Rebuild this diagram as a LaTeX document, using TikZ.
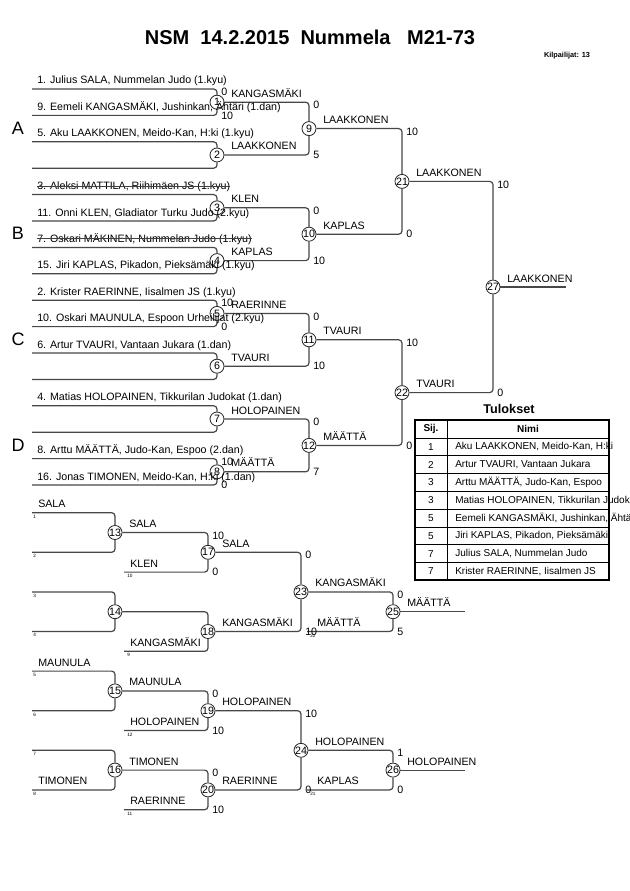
\documentclass[tikz,border=0pt]{standalone}
\usepackage{fontspec}
\setmainfont{Liberation Sans}
\usetikzlibrary{calc}
\newcommand\myfs[1]{\fontsize{#1}{#1}\selectfont}
\tikzset{
 br/.style={draw=black!72, line width=0.9pt, rounded corners=2.5pt},
 mc/.style={circle, draw=black!85, line width=0.6pt, minimum size=10.5pt, inner sep=0pt, font=\myfs{8}},
 nm/.style={anchor=base west, inner sep=0pt, font=\myfs{8}},
 sc/.style={anchor=west, inner sep=0pt, font=\myfs{8}},
 tn/.style={anchor=north west, inner sep=0pt, font=\myfs{3.5}},
 strike/.style={draw=black!75, line width=0.6pt},
 tline/.style={draw=black, line width=0.5pt},
}
\begin{document}
\begin{tikzpicture}[x=0.75pt,y=-0.75pt]
\useasboundingbox (0,0) rectangle (630,891);
\clip (0,0) rectangle (630,891);
\fill[white] (0,0) rectangle (630,891);

% title
\node[font=\bfseries\myfs{15}] (title) at (310,37) {NSM\ \ 14.2.2015\ \ Nummela\ \ \ M21-73};
\node[font=\bfseries\myfs{5.5}] (kilp) at (567,56) {Kilpailijat: 13};

% group letters
\node[font=\myfs{13.5}] (gA) at (18,128) {A};
\node[font=\myfs{13.5}] (gB) at (18,233) {B};
\node[font=\myfs{13.5}] (gC) at (18,339) {C};
\node[font=\myfs{13.5}] (gD) at (18,445) {D};

% ---------- main bracket ----------
\foreach \i in {0,...,15} \coordinate (s\i) at (32,{89+26.4*\i});
\foreach \j in {1,...,8} \node[mc] (m\j) at (217,{49.4+52.8*\j}) {\j};
\node[mc] (m9) at (309,128.6) {9};
\node[mc] (m10) at (309,234.2) {10};
\node[mc] (m11) at (309,339.8) {11};
\node[mc] (m12) at (309,445.4) {12};
\node[mc] (m21) at (402,181.4) {21};
\node[mc] (m22) at (402,392.6) {22};
\node[mc] (m27) at (493,287) {27};
\coordinate (e27) at (566,287);

\foreach \a/\b/\c in {0/1/1,2/3/2,4/5/3,6/7/4,8/9/5,10/11/6,12/13/7,14/15/8}{
  \draw[br] (s\a) -| (m\c);
  \draw[br] (s\b) -| (m\c);
}
\foreach \a/\b/\c in {m1/m2/m9,m3/m4/m10,m5/m6/m11,m7/m8/m12,m9/m10/m21,m11/m12/m22,m21/m22/m27}{
  \draw[br] (\a) -| (\c);
  \draw[br] (\b) -| (\c);
}
\draw[br] (m27) -- (e27);

% competitor names
\node[nm] (n0) at ($(s0)+(5,-5)$) {1. Julius SALA, Nummelan Judo (1.kyu)};
\node[nm] (n1) at ($(s1)+(5,-5)$) {9. Eemeli KANGASMÄKI, Jushinkan, Ähtäri (1.dan)};
\node[nm] (n2) at ($(s2)+(5,-5)$) {5. Aku LAAKKONEN, Meido-Kan, H:ki (1.kyu)};
\node[nm] (n4) at ($(s4)+(5,-5)$) {3. Aleksi MATTILA, Riihimäen JS (1.kyu)};
\node[nm] (n5) at ($(s5)+(5,-5)$) {11. Onni KLEN, Gladiator Turku Judo (2.kyu)};
\node[nm] (n6) at ($(s6)+(5,-5)$) {7. Oskari MÄKINEN, Nummelan Judo (1.kyu)};
\node[nm] (n7) at ($(s7)+(5,-5)$) {15. Jiri KAPLAS, Pikadon, Pieksämäki (1.kyu)};
\node[nm] (n8) at ($(s8)+(5,-5)$) {2. Krister RAERINNE, Iisalmen JS (1.kyu)};
\node[nm] (n9) at ($(s9)+(5,-5)$) {10. Oskari MAUNULA, Espoon Urheilijat (2.kyu)};
\node[nm] (n10) at ($(s10)+(5,-5)$) {6. Artur TVAURI, Vantaan Jukara (1.dan)};
\node[nm] (n12) at ($(s12)+(5,-5)$) {4. Matias HOLOPAINEN, Tikkurilan Judokat (1.dan)};
\node[nm] (n14) at ($(s14)+(5,-5)$) {8. Arttu MÄÄTTÄ, Judo-Kan, Espoo (2.dan)};
\node[nm] (n15) at ($(s15)+(5,-5)$) {16. Jonas TIMONEN, Meido-Kan, H:ki (1.dan)};
\draw[strike] ([yshift=0.6pt]n4.west) -- ([yshift=0.6pt]n4.east);
\draw[strike] ([yshift=0.6pt]n6.west) -- ([yshift=0.6pt]n6.east);

% winner labels
\foreach \m/\t in {m1/KANGASMÄKI,m2/LAAKKONEN,m3/KLEN,m4/KAPLAS,m5/RAERINNE,m6/TVAURI,m7/HOLOPAINEN,m8/MÄÄTTÄ,
  m9/LAAKKONEN,m10/KAPLAS,m11/TVAURI,m12/MÄÄTTÄ,m21/LAAKKONEN,m22/TVAURI,m27/LAAKKONEN}
  \node[nm] (w\m) at ($(\m)+(14,-5)$) {\t};

% scores (top: corner+(4,3), bottom: corner+(4,0))
\foreach \c/\s/\t in {m1/s0/0,m5/s8/10,m8/s14/10,m9/m1/0,m10/m3/0,m11/m5/0,m12/m7/0,m21/m9/10,m22/m11/10,m27/m21/10}
  \node[sc] (ts\c) at ($(\c |- \s)+(4,3)$) {\t};
\foreach \c/\s/\t in {m1/s1/10,m5/s9/0,m8/s15/0,m9/m2/5,m10/m4/10,m11/m6/10,m12/m8/7,m21/m10/0,m22/m12/0,m27/m22/0}
  \node[sc] (bs\c) at ($(\c |- \s)+(4,0)$) {\t};

% ---------- results table ----------
\node[font=\bfseries\myfs{9.5}] (tul) at (509,409) {Tulokset};
\node[font=\bfseries\myfs{7.5}] (hsij) at (431,429) {Sij.};
\node[font=\bfseries\myfs{7.5}] (hnimi) at (528,429) {Nimi};
\foreach \k/\p/\t in {1/1/{Aku LAAKKONEN, Meido-Kan, H:ki},2/2/{Artur TVAURI, Vantaan Jukara},
  3/3/{Arttu MÄÄTTÄ, Judo-Kan, Espoo},4/3/{Matias HOLOPAINEN, Tikkurilan Judokat},
  5/5/{Eemeli KANGASMÄKI, Jushinkan, Ähtäri},6/5/{Jiri KAPLAS, Pikadon, Pieksämäki},
  7/7/{Julius SALA, Nummelan Judo},8/7/{Krister RAERINNE, Iisalmen JS}}{
  \node[font=\myfs{7.5}] (tp\k) at (431,{446.9+17.8*(\k-1)}) {\p};
  \node[anchor=west, inner sep=0pt, font=\myfs{7.5}] (tn\k) at (455,{446.9+17.8*(\k-1)}) {\t};
}
\draw[tline] (447,420) -- (447,580.4);
\foreach \k in {0,...,7} \draw[tline] (415,{438+17.8*\k}) -- (609,{438+17.8*\k});
\draw[line width=1.5pt] (415,420) rectangle (609,580.4);

% ---------- repechage ----------
\foreach \k in {0,2,4,6,8,10,12,14} \coordinate (r\k) at (32,{512.7+19.8*\k});
\foreach \k in {3,7,11,15} \coordinate (r\k) at (124,{512.7+19.8*\k});
\coordinate (q6) at (307,631.5);
\coordinate (q14) at (307,789.9);
\coordinate (e25) at (465,611.7);
\coordinate (e26) at (465,770.1);

\node[mc] (m13) at (115,532.5) {13};
\node[mc] (m14) at (115,611.7) {14};
\node[mc] (m15) at (115,690.9) {15};
\node[mc] (m16) at (115,770.1) {16};
\node[mc] (m17) at (208,552.3) {17};
\node[mc] (m18) at (208,631.5) {18};
\node[mc] (m19) at (208,710.7) {19};
\node[mc] (m20) at (208,789.9) {20};
\node[mc] (m23) at (301,591.9) {23};
\node[mc] (m24) at (301,750.3) {24};
\node[mc] (m25) at (393,611.7) {25};
\node[mc] (m26) at (393,770.1) {26};

\foreach \a/\c in {r0/m13,r2/m13,r4/m14,r6/m14,r8/m15,r10/m15,r12/m16,r14/m16,
  m13/m17,r3/m17,m14/m18,r7/m18,m15/m19,r11/m19,m16/m20,r15/m20,
  m17/m23,m18/m23,m19/m24,m20/m24,m23/m25,q6/m25,m24/m26,q14/m26}
  \draw[br] (\a) -| (\c);
\draw[br] (m25) -- (e25);
\draw[br] (m26) -- (e26);

% names on repechage lines
\node[nm] (lr0) at ($(r0)+(6,-5)$) {SALA};
\node[nm] (lr8) at ($(r8)+(6,-5)$) {MAUNULA};
\node[nm] (lr14) at ($(r14)+(6,-5)$) {TIMONEN};
\node[nm] (lr3) at ($(r3)+(6,-5)$) {KLEN};
\node[nm] (lr7) at ($(r7)+(6,-5)$) {KANGASMÄKI};
\node[nm] (lr11) at ($(r11)+(6,-5)$) {HOLOPAINEN};
\node[nm] (lr15) at ($(r15)+(6,-5)$) {RAERINNE};
\node[nm] (lq6) at ($(q6)+(10,-5)$) {MÄÄTTÄ};
\node[nm] (lq14) at ($(q14)+(10,-5)$) {KAPLAS};

% tiny seed numbers
\foreach \c/\t in {r0/1,r2/2,r4/3,r6/4,r8/5,r10/6,r12/7,r14/8}
  \node[tn] (tn\c) at ($(\c)+(1,2)$) {\t};
\foreach \c/\t in {r3/10,r7/9,r11/12,r15/11,q6/22,q14/21}
  \node[tn] (tn\c) at ($(\c)+(3,2)$) {\t};

% winner labels
\foreach \m/\t in {m13/SALA,m15/MAUNULA,m16/TIMONEN,m17/SALA,m18/KANGASMÄKI,m19/HOLOPAINEN,m20/RAERINNE,
  m23/KANGASMÄKI,m24/HOLOPAINEN,m25/MÄÄTTÄ,m26/HOLOPAINEN}
  \node[nm] (w\m) at ($(\m)+(14,-5)$) {\t};

% scores
\foreach \c/\s/\t in {m17/m13/10,m19/m15/0,m20/m16/0,m23/m17/0,m24/m19/10,m25/m23/0,m26/m24/1}
  \node[sc] (ts\c) at ($(\c |- \s)+(4,3)$) {\t};
\foreach \c/\s/\t in {m17/r3/0,m19/r11/10,m20/r15/10,m23/m18/10,m24/m20/0,m25/q6/5,m26/q14/0}
  \node[sc] (bs\c) at ($(\c |- \s)+(4,0)$) {\t};
\end{tikzpicture}
\end{document}
